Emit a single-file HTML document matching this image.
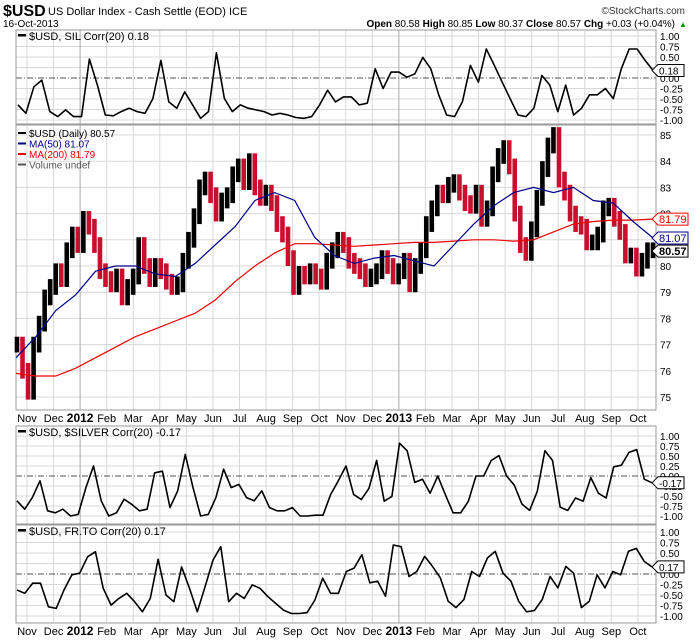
<!DOCTYPE html>
<html><head><meta charset="utf-8"><style>
body{margin:0;background:#fff;}
svg text{font-family:"Liberation Sans",sans-serif;}
</style></head><body>
<svg id="c" width="700" height="639" viewBox="0 0 700 639" xmlns="http://www.w3.org/2000/svg">
<rect width="700" height="639" fill="#fff"/>
<text x="3" y="16" font-size="16" font-weight="bold">$USD</text>
<text x="48" y="15" font-size="11">US Dollar Index - Cash Settle (EOD) ICE</text>
<text x="3" y="27" font-size="10">16-Oct-2013</text>
<text x="685" y="14" font-size="10" text-anchor="end" fill="#333">©StockCharts.com</text>
<text x="675" y="27" font-size="10" text-anchor="end"><tspan font-weight="bold">Open</tspan> 80.58 <tspan font-weight="bold">High</tspan> 80.85 <tspan font-weight="bold">Low</tspan> 80.37 <tspan font-weight="bold">Close</tspan> 80.57 <tspan font-weight="bold">Chg</tspan> +0.03 (+0.04%)</text>
<text x="679" y="27" font-size="8" fill="#090">▲</text>
<g id="g"></g>
</svg>
<script>
const months=["Nov","Dec","2012","Feb","Mar","Apr","May","Jun","Jul","Aug","Sep","Oct","Nov","Dec","2013","Feb","Mar","Apr","May","Jun","Jul","Aug","Sep","Oct"];
const closes=[77.0,76.0,75.2,77.0,77.8,78.8,79.2,79.8,79.5,80.6,81.2,80.8,81.8,81.5,80.8,79.8,79.5,79.3,79.6,78.8,79.2,79.6,80.8,80.0,79.5,80.0,79.8,79.4,79.2,79.3,80.2,81.0,81.9,83.0,83.3,82.7,82.0,82.5,82.7,83.5,83.8,83.2,84.0,83.0,82.6,82.8,82.4,81.6,81.2,80.3,79.2,79.7,79.6,79.8,79.6,79.4,80.2,80.6,81.0,80.8,80.2,80.0,79.8,79.5,79.6,79.8,80.3,80.0,79.6,79.8,80.2,79.3,80.0,80.6,81.6,82.2,82.8,82.7,83.1,83.2,82.8,82.4,82.3,82.8,81.8,82.2,83.5,84.2,84.5,83.8,82.0,80.8,80.5,81.4,82.6,83.7,84.6,85.0,83.3,82.8,82.0,81.6,81.5,80.9,80.9,81.2,82.2,82.3,81.8,81.3,80.4,80.4,79.9,80.2,80.6,80.6];
const ma50=[76.5,77.3,78.3,78.9,79.8,80.0,80.0,79.7,79.6,80.1,80.8,81.5,82.5,82.8,82.5,81.1,80.4,80.1,80.3,80.4,80.2,80.0,80.8,81.6,82.3,82.8,83.0,82.8,83.0,82.5,82.4,81.7,81.07];
const ma200=[75.9,75.8,75.8,76.1,76.5,76.9,77.3,77.6,77.9,78.2,78.7,79.4,80.0,80.5,80.85,80.85,80.8,80.75,80.8,80.85,80.9,80.9,80.95,81.0,81.0,80.95,81.0,81.3,81.6,81.7,81.75,81.75,81.79];
const silCorr=[-0.64,-0.84,-0.21,-0.05,-0.8,-0.92,-0.76,-0.92,-0.92,0.45,-0.17,-0.88,-0.9,-0.8,-0.72,-0.8,-0.84,-0.49,0.42,-0.57,-0.72,-0.33,-0.64,-0.96,-0.8,0.6,-0.49,-0.8,-0.64,-0.72,-0.76,-0.8,-0.88,-0.84,-0.88,-0.94,-0.96,-0.92,-0.64,-0.29,-0.57,-0.45,-0.45,-0.64,-0.6,0.22,-0.25,0.14,0.14,0.02,0.1,0.49,0.22,-0.4,-0.88,-0.92,-0.56,0.3,-0.1,0.69,0.3,-0.1,-0.49,-0.88,-0.92,-0.72,0.06,-0.17,-0.8,-0.17,-0.88,-0.72,-0.4,-0.4,-0.25,-0.49,0.22,0.69,0.69,0.42,0.18];
const silverCorr=[-0.62,-0.83,-0.54,-0.12,-0.87,-0.92,-0.83,-1.0,-0.96,-0.29,0.25,-0.62,-1.0,-0.92,-0.58,-0.71,-0.87,-0.83,0.08,0.12,-0.79,-0.37,0.54,-0.29,-1.0,-0.96,-0.54,0.17,-0.29,-0.21,-0.54,-0.62,-0.37,-0.79,-0.87,-0.87,-0.79,-1.0,-1.0,-0.98,-0.98,-0.46,-0.12,0.25,-0.46,-0.59,-0.31,0.39,-0.63,-0.51,0.82,0.63,-0.16,-0.08,-0.43,0.0,-0.47,-0.92,-0.92,-0.63,0.0,0.0,0.39,0.51,0.0,-0.23,-0.7,-0.86,-0.39,0.63,0.39,-0.78,-0.86,-0.55,-0.63,-0.04,-0.43,-0.55,0.23,0.27,0.59,0.66,-0.08,-0.17];
const frtoCorr=[-0.38,-0.46,-0.22,-0.22,-0.78,-0.82,-0.38,-0.02,0.02,0.41,0.53,-0.34,-0.74,-0.58,-0.46,-0.66,-0.9,-0.58,0.35,-0.5,-0.66,0.17,-0.34,-0.9,-0.3,0.33,0.65,-0.66,-0.46,-0.58,-0.26,-0.34,-0.54,-0.7,-0.86,-0.94,-0.94,-0.92,-0.62,-0.1,-0.46,-0.46,0.06,0.14,0.46,-0.21,-0.17,-0.53,0.69,0.65,-0.06,0.06,0.42,0.18,-0.09,-0.65,-0.8,-0.61,0.06,-0.06,0.38,0.54,0.02,-0.17,-0.65,-0.9,-0.87,-0.61,-0.06,-0.33,0.18,0.02,-0.8,-0.65,-0.02,-0.33,0.06,-0.02,0.54,0.61,0.3,0.17];
const corrTicks=["1.00","0.75","0.50","0.25","0.00","-0.25","-0.50","-0.75","-1.00"];
const priceTicks=[75,76,77,78,79,80,81,82,83,84,85];

const NS="http://www.w3.org/2000/svg";
const G=document.getElementById('g');
const L=16,R=656;
function el(t,a,p){const e=document.createElementNS(NS,t);for(const k in a)e.setAttribute(k,a[k]);(p||G).appendChild(e);return e;}
const monthX=m=>27+m*26.56;
function idxX(i,n,x0,x1){return x0+i*(x1-x0)/(n-1);}
const yPrice=v=>135+(85-v)*26.2;

function vgrid(top,bot){
  months.forEach((m,i)=>{const yr=/^\d/.test(m);
    const ln=el('line',{x1:monthX(i),x2:monthX(i),y1:top,y2:bot,stroke:yr?'#aaa':'#d8d8d8','stroke-width':1});
    
    });
}
function corrPanel(name,top,bot,y1,y0,series,label,val,x0,x1){
  const u=(y0-y1);const yc=v=>y0-v*u;
  el('rect',{x:L,y:top,width:R-L,height:bot-top,fill:'#fff',stroke:'none'});
  corrTicks.forEach(t=>{const v=parseFloat(t);
    if(v!==0)el('line',{x1:L,x2:R,y1:yc(v),y2:yc(v),stroke:'#d8d8d8'});
    const tx=el('text',{x:660,y:yc(v)+4,'font-size':10});tx.textContent=t;
    
    });
  vgrid(top,bot);
  el('line',{x1:L,x2:R,y1:yc(0),y2:yc(0),stroke:'#555','stroke-dasharray':'6,2,1,2'});
  el('rect',{x:L,y:top,width:R-L,height:bot-top,fill:'none',stroke:'#999'});
  const pts=series.map((v,i)=>idxX(i,series.length,x0,x1).toFixed(1)+','+yc(v).toFixed(1)).join(' ');
  const pl=el('polyline',{points:pts,fill:'none',stroke:'#000','stroke-width':1.6,'stroke-linejoin':'round'});
  
  
  el('rect',{x:18,y:top+4,width:8,height:2.5,fill:'#000'});
  const lt=el('text',{x:29,y:top+10,'font-size':11});lt.textContent=label;
  
  
  const last=series[series.length-1],yl=yc(last);
  el('path',{d:`M652,${yl} l6,-6 h26 v12 h-26 z`,fill:'#fff',stroke:'#000'});
  const vt=el('text',{x:659,y:yl+4,'font-size':10});vt.textContent=val;
  
  
}
corrPanel('sil-corr',30,124,36,78,silCorr,'$USD, SIL Corr(20) 0.18','0.18',18,653);
corrPanel('silver-corr',426,524,436,476,silverCorr,'$USD, $SILVER Corr(20) -0.17','-0.17',17,652);
corrPanel('frto-corr',525,623,532,574,frtoCorr,'$USD, FR.TO Corr(20) 0.17','0.17',17,652);

// main price panel
el('rect',{x:L,y:125,width:R-L,height:285,fill:'#fff'});
priceTicks.forEach(v=>{el('line',{x1:L,x2:R,y1:yPrice(v),y2:yPrice(v),stroke:'#d8d8d8'});
  const t=el('text',{x:660,y:yPrice(v)+4,'font-size':10});t.textContent=v;
  
  });
vgrid(125,410);
el('rect',{x:L,y:125,width:R-L,height:285,fill:'none',stroke:'#999'});
const n=closes.length;
closes.forEach((c,i)=>{const p=i?closes[i-1]:c;const x=idxX(i,n,17,653);
  const hi=Math.max(p,c)+0.3,lo=Math.min(p,c)-0.3;
  const b=el('rect',{x:x-2.3,y:yPrice(hi),width:4.6,height:yPrice(lo)-yPrice(hi),fill:c<p?'#c8102e':'#000'});
  
  });
function maLine(arr,col,name){const pts=arr.map((v,i)=>idxX(i,arr.length,16,653).toFixed(1)+','+yPrice(v).toFixed(1)).join(' ');
  const pl=el('polyline',{points:pts,fill:'none',stroke:col,'stroke-width':1.2});
  
  }
maLine(ma200,'#e00','ma200-line');
maLine(ma50,'#00008b','ma50-line');
function tag(v,col,bold,name){const y=yPrice(v);
  el('path',{d:`M652,${y} l6,-6 h30 v12 h-30 z`,fill:'#fff',stroke:col});
  const t=el('text',{x:659,y:y+4,'font-size':11,fill:col,'font-weight':bold?'bold':'normal'});t.textContent=v.toFixed(2);
  
  }
tag(81.79,'#e00',false,'ma200-value-tag');tag(81.07,'#00008b',false,'ma50-value-tag');tag(80.57,'#000',true,'close-value-tag');
const leg=[["$USD (Daily) 80.57","#000","price-legend"],["MA(50) 81.07","#00008b","ma50-legend"],["MA(200) 81.79","#e00","ma200-legend"],["Volume undef","#555","volume-legend"]];
leg.forEach((l,i)=>{el('rect',{x:18,y:132+i*10.5,width:8,height:2,fill:l[1]});
  const t=el('text',{x:29,y:137+i*10.5,'font-size':10,fill:i==0?'#000':l[1]});t.textContent=l[0];
  
  });
// x axis labels
[418,631].forEach(y=>months.forEach((m,i)=>{const yr=/^\d/.test(m);
  const t=el('text',{x:monthX(i),y:y+4,'font-size':yr?12:11,'font-weight':yr?'bold':'normal','text-anchor':'middle'});t.textContent=m;
  
  }));
</script>
</body></html>
